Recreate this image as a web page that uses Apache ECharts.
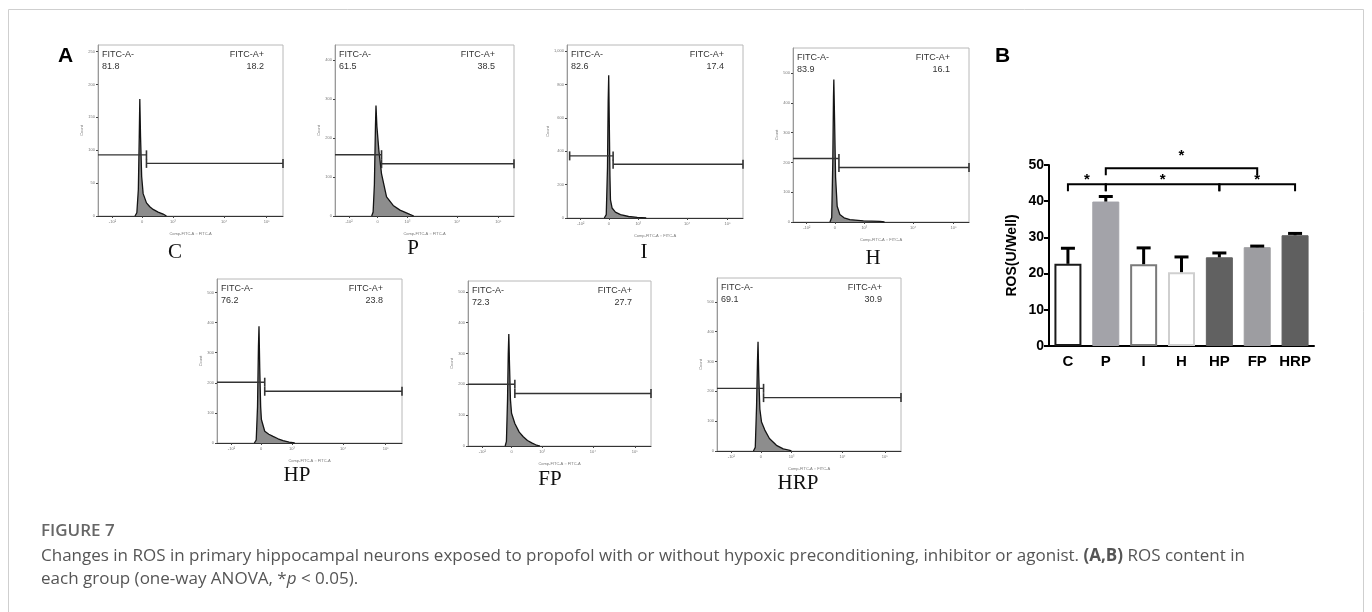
<!DOCTYPE html>
<html>
<head>
<meta charset="utf-8">
<script src="https://cdn.jsdelivr.net/npm/echarts@6.0.0/dist/echarts.min.js"></script>
<style>
html, body { margin: 0; padding: 0; background: #fff; }
#chart { width: 1372px; height: 612px; }
</style>
</head>
<body>
<div id="chart"></div>
<script>
// ---- panel A: FITC histograms (x = % of display range, y = count) ----
var groups = ['C', 'P', 'I', 'H', 'HP', 'FP', 'HRP'];
var negPct = ['81.8', '61.5', '82.6', '83.9', '76.2', '72.3', '69.1'];
var posPct = ['18.2', '38.5', '17.4', '16.1', '23.8', '27.7', '30.9'];

var histC = [[20.0,0],[21.0,5],[21.8,40],[22.3,120],[22.6,178],[23.0,120],[23.6,60],[24.4,34],[26.2,20],[28,14],[29.8,10],[32.5,6],[35.2,3],[37,0]];
var histP = [[20.5,0],[21.3,10],[22.0,80],[22.6,230],[22.9,283],[23.4,230],[24.5,168],[26.0,108],[28.8,49],[32.5,27],[36.3,15],[41.8,4],[44,0]];
var histI = [[21.2,0],[22.3,20],[23.0,300],[23.4,700],[23.7,855],[24.0,600],[24.4,250],[24.7,109],[25.6,60],[27.5,35],[30.4,20],[35,9],[39.9,4],[45,0]];
var histH = [[21.0,0],[22.0,15],[22.6,200],[23.0,420],[23.2,478],[23.6,350],[24.2,150],[25.1,53],[26.6,25],[29,14],[32.3,8],[40,4],[49.4,2],[52,0]];
var histHP = [[20.2,0],[21.2,10],[21.9,120],[22.4,320],[22.7,388],[23.1,250],[23.6,120],[24.0,78],[25.8,39],[28,29],[30.3,22],[33,14],[35.7,8],[39,3],[42,0]];
var histFP = [[20.3,0],[21.0,15],[21.6,150],[22.0,300],[22.3,363],[22.7,260],[23.2,150],[23.8,106],[25.6,73],[28,45],[30.2,30],[32.5,18],[34.8,10],[37,4],[39.3,0]];
var histHRP = [[19.8,0],[20.8,12],[21.5,150],[22.0,300],[22.3,366],[22.7,250],[23.3,140],[24.2,97],[26.0,70],[28.5,42],[32.3,19],[36,7],[39.6,2],[40.5,0]];
var hists = [histC, histP, histI, histH, histHP, histFP, histHRP];

var gateSplit = [26.2, 26.0, 26.2, 26.1, 25.8, 25.6, 25.3];
var gateStart = [0, 0, 1.5, 0, 0, 0, 0];
var gateNeg = [93, 157, 372, 213, 202, 200, 210];
var gatePos = [80, 134, 322, 183, 172, 170, 179];
var yMax = [260, 438, 1036, 584, 545, 535, 580];
var yStep = [50, 100, 200, 100, 100, 100, 100];
var xTickVals = [7.8, 23.8, 40.5, 68.2, 91.2];
var xTickText = ['-10\u00b2', '0', '10\u00b3', '10\u2074', '10\u2075'];

// ---- panel B: ROS ----
var rosGroups = ['C', 'P', 'I', 'H', 'HP', 'FP', 'HRP'];
var rosMean = [22.7, 39.9, 22.6, 20.4, 24.5, 27.3, 30.6];
var rosErr = [4.3, 1.4, 4.5, 4.2, 1.2, 0.3, 0.5];
// [from, to, bracket level, star level]
var brackets = [[0, 1, 44.7, 46.9], [1, 4, 44.7, 46.9], [4, 6, 44.7, 46.9], [1, 5, 49.1, 53.4]];

// layout of the histogram boxes
var boxes = [
  {l: 98, t: 45, w: 185, h: 171, lx: 175, ly: 252},
  {l: 335, t: 45, w: 179, h: 171, lx: 413, ly: 248},
  {l: 567, t: 45, w: 176, h: 173, lx: 644, ly: 252},
  {l: 793, t: 48, w: 176, h: 174, lx: 873, ly: 258},
  {l: 217, t: 279, w: 185, h: 164, lx: 297, ly: 475},
  {l: 468, t: 281, w: 183, h: 165, lx: 550, ly: 479},
  {l: 717, t: 278, w: 184, h: 173, lx: 798, ly: 483}
];
var barStyles = [
  {color: '#ffffff', borderColor: '#1a1a1a', borderWidth: 2},
  {color: '#a3a3a9', borderColor: '#a3a3a9', borderWidth: 1},
  {color: '#ffffff', borderColor: '#7a7a7a', borderWidth: 2},
  {color: '#ffffff', borderColor: '#cfcfcf', borderWidth: 2},
  {color: '#616161', borderColor: '#616161', borderWidth: 1},
  {color: '#9d9da1', borderColor: '#9d9da1', borderWidth: 1},
  {color: '#5f5f5f', borderColor: '#5f5f5f', borderWidth: 1}
];

var grids = [], xAxes = [], yAxes = [], series = [], graphics = [];
var tiny = {fontSize: 4, color: '#777', fontFamily: 'Liberation Sans'};

boxes.forEach(function (b, i) {
  grids.push({left: b.l, top: b.t, width: b.w, height: b.h, show: true,
    borderColor: '#b8b8b8', borderWidth: 1, backgroundColor: 'transparent'});
  xAxes.push({type: 'value', gridIndex: i, min: 0, max: 100,
    name: 'Comp-FITC-A :: FITC-A', nameLocation: 'middle', nameGap: 16,
    nameTextStyle: tiny,
    axisLine: {show: true, lineStyle: {color: '#333', width: 1}},
    axisTick: {show: true, length: 2, customValues: xTickVals, lineStyle: {color: '#444'}},
    axisLabel: {customValues: xTickVals, margin: 4, fontSize: 4, color: '#777',
      formatter: function (v) { return xTickText[xTickVals.indexOf(v)] || ''; }},
    splitLine: {show: false}});
  var yt = [];
  for (var v = 0; v <= yMax[i]; v += yStep[i]) yt.push(v);
  yAxes.push({type: 'value', gridIndex: i, min: 0, max: yMax[i],
    name: 'Count', nameLocation: 'middle', nameGap: 14, nameTextStyle: tiny,
    axisLine: {show: true, lineStyle: {color: '#999'}},
    axisTick: {show: true, length: 2, customValues: yt, lineStyle: {color: '#444'}},
    axisLabel: {customValues: yt, margin: 3, fontSize: 4, color: '#777'},
    splitLine: {show: false}});

  series.push({type: 'line', xAxisIndex: i, yAxisIndex: i, data: hists[i],
    symbol: 'none', lineStyle: {color: '#141414', width: 1.3},
    areaStyle: {color: '#8d8d8d', opacity: 1}, z: 3, animation: false});
  series.push({type: 'line', xAxisIndex: i, yAxisIndex: i, clip: false,
    data: [{value: [gateStart[i], gateNeg[i]], symbol: gateStart[i] > 0 ? 'rect' : 'none'},
           [gateSplit[i], gateNeg[i]]],
    symbol: 'rect', symbolSize: [1.6, 9], itemStyle: {color: '#333'},
    lineStyle: {color: '#333', width: 1.4}, z: 4, animation: false});
  series.push({type: 'line', xAxisIndex: i, yAxisIndex: i, clip: false,
    data: [[gateSplit[i], gatePos[i]], [100, gatePos[i]]],
    symbol: 'rect', symbolSize: [1.6, 9], itemStyle: {color: '#333'},
    lineStyle: {color: '#333', width: 1.4}, z: 4, animation: false});

  var f = '9px "Liberation Sans"';
  graphics.push({type: 'text', x: b.l + 4, y: b.t + 10,
    style: {text: 'FITC-A-', font: f, fill: '#333', verticalAlign: 'middle', textVerticalAlign: 'middle'}});
  graphics.push({type: 'text', x: b.l + 4, y: b.t + 22,
    style: {text: negPct[i], font: f, fill: '#333', verticalAlign: 'middle', textVerticalAlign: 'middle'}});
  graphics.push({type: 'text', x: b.l + b.w - 19, y: b.t + 10,
    style: {text: 'FITC-A+', font: f, fill: '#333', align: 'right', textAlign: 'right', verticalAlign: 'middle', textVerticalAlign: 'middle'}});
  graphics.push({type: 'text', x: b.l + b.w - 19, y: b.t + 22,
    style: {text: posPct[i], font: f, fill: '#333', align: 'right', textAlign: 'right', verticalAlign: 'middle', textVerticalAlign: 'middle'}});
  graphics.push({type: 'text', x: b.lx, y: b.ly,
    style: {text: groups[i], font: '21px "Liberation Serif"', fill: '#111', align: 'center', textAlign: 'center', verticalAlign: 'middle', textVerticalAlign: 'middle'}});
});

// panel B grid
var bi = boxes.length;
grids.push({left: 1049, top: 165, width: 265, height: 181});
xAxes.push({type: 'category', gridIndex: bi, data: rosGroups,
  axisLine: {lineStyle: {color: '#000', width: 2}}, axisTick: {show: false},
  axisLabel: {interval: 0, hideOverlap: false, fontSize: 15, fontWeight: 'bold', color: '#000', fontFamily: 'Liberation Sans', margin: 8}});
yAxes.push({type: 'value', gridIndex: bi, min: 0, max: 50, interval: 10,
  name: 'ROS(U/Well)', nameLocation: 'middle', nameGap: 30,
  nameTextStyle: {fontSize: 14, fontWeight: 'bold', color: '#000', fontFamily: 'Liberation Sans'},
  axisLine: {show: true, lineStyle: {color: '#000', width: 2}},
  axisTick: {show: true, length: 5, lineStyle: {color: '#000', width: 2}},
  axisLabel: {fontSize: 14, fontWeight: 'bold', color: '#000', fontFamily: 'Liberation Sans', margin: 5},
  splitLine: {show: false}});
series.push({type: 'bar', xAxisIndex: bi, yAxisIndex: bi, barWidth: 27, animation: false,
  data: rosMean.map(function (m, i) { return {value: m, itemStyle: barStyles[i]}; })});
series.push({type: 'custom', xAxisIndex: bi, yAxisIndex: bi, animation: false, z: 5,
  data: rosMean.map(function (m, i) { return [i, m, rosErr[i]]; }),
  renderItem: function (params, api) {
    var p0 = api.coord([api.value(0), api.value(1)]);
    var p1 = api.coord([api.value(0), api.value(1) + api.value(2)]);
    var hw = 7;
    return {type: 'group', children: [
      {type: 'line', shape: {x1: p0[0], y1: p0[1], x2: p1[0], y2: p1[1]}, style: {stroke: '#000', lineWidth: 3}},
      {type: 'line', shape: {x1: p1[0] - hw, y1: p1[1], x2: p1[0] + hw, y2: p1[1]}, style: {stroke: '#000', lineWidth: 3}}
    ]};
  }});
series.push({type: 'custom', xAxisIndex: bi, yAxisIndex: bi, animation: false, z: 5, clip: false,
  data: brackets,
  renderItem: function (params, api) {
    var a = api.coord([api.value(0), api.value(2)]);
    var b = api.coord([api.value(1), api.value(2)]);
    var s = api.coord([api.value(0), api.value(3)]);
    var drop = 7;
    return {type: 'group', children: [
      {type: 'polyline', shape: {points: [[a[0], a[1] + drop], [a[0], a[1]], [b[0], b[1]], [b[0], b[1] + drop]]},
        style: {stroke: '#000', lineWidth: 2, fill: null}},
      {type: 'text', x: (a[0] + b[0]) / 2, y: s[1] - 4,
        style: {text: '*', font: 'bold 15px "Liberation Sans"', fill: '#000', align: 'center', textAlign: 'center', verticalAlign: 'top', textVerticalAlign: 'top'}}
    ]};
  }});

// frame, panel letters, caption
graphics.push({type: 'rect', shape: {x: 8.5, y: 9.5, width: 1355, height: 700},
  style: {fill: null, stroke: '#cfcfcf', lineWidth: 1}, silent: true});
graphics.push({type: 'text', x: 58, y: 56,
  style: {text: 'A', font: 'bold 21px "Liberation Sans"', fill: '#000', verticalAlign: 'middle', textVerticalAlign: 'middle'}});
graphics.push({type: 'text', x: 995, y: 56,
  style: {text: 'B', font: 'bold 21px "Liberation Sans"', fill: '#000', verticalAlign: 'middle', textVerticalAlign: 'middle'}});
graphics.push({type: 'text', x: 41, y: 531,
  style: {text: 'FIGURE 7', font: '600 17px "Open Sans"', fill: '#666', verticalAlign: 'middle', textVerticalAlign: 'middle'}});
graphics.push({type: 'text', x: 41, y: 556,
  style: {text: '{n|Changes in ROS in primary hippocampal neurons exposed to propofol with or without hypoxic preconditioning, inhibitor or agonist. }{b|(A,B)}{n| ROS content in}',
    verticalAlign: 'middle', textVerticalAlign: 'middle',
    rich: {n: {font: '17px "Open Sans"', fill: '#555', color: '#555'},
           b: {font: 'bold 17px "Open Sans"', fill: '#555', color: '#555'}}}});
graphics.push({type: 'text', x: 41, y: 579,
  style: {text: '{n|each group (one-way ANOVA, *}{i|p}{n| < 0.05).}',
    verticalAlign: 'middle', textVerticalAlign: 'middle',
    rich: {n: {font: '17px "Open Sans"', fill: '#555', color: '#555'},
           i: {font: 'italic 17px "Open Sans"', fill: '#555', color: '#555'}}}});

var myChart = echarts.init(document.getElementById('chart'));
myChart.setOption({
  animation: false,
  backgroundColor: '#fff',
  grid: grids,
  xAxis: xAxes,
  yAxis: yAxes,
  series: series,
  graphic: graphics
});
</script>
</body>
</html>
